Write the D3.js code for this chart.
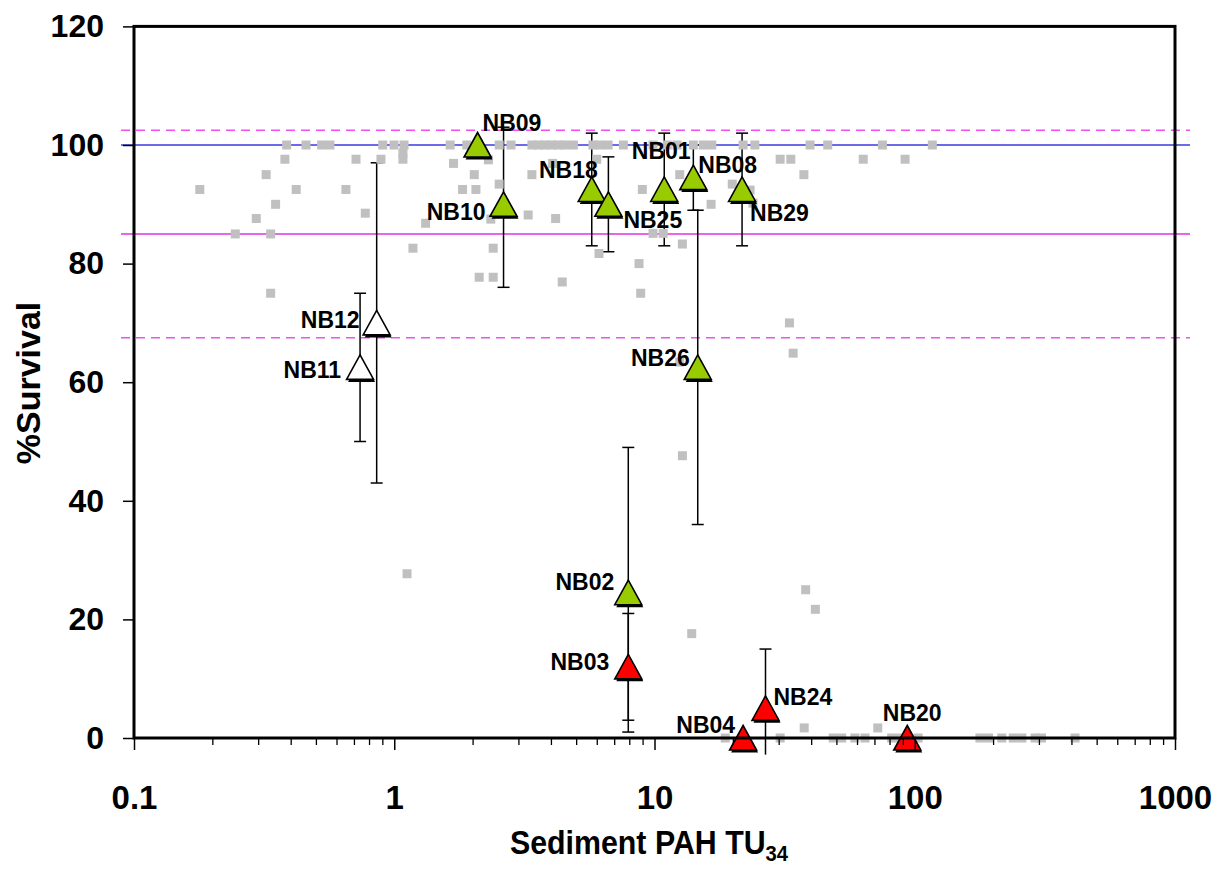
<!DOCTYPE html>
<html><head><meta charset="utf-8">
<script src="https://cdn.jsdelivr.net/npm/d3@7"></script>
<style>
body{margin:0;background:#fff;}
svg{display:block;font-family:"Liberation Sans",Arial,Helvetica,sans-serif;}
</style>
</head><body>
<svg id="chart" width="1219" height="869"></svg>
<script>
// ---------------- DATA ----------------
const siteNames    = ["NB09","NB10","NB18","NB25","NB01","NB08","NB29","NB26","NB12","NB11","NB02","NB03","NB04","NB24","NB20"];
const siteTU       = [2.09, 2.63, 5.74, 6.65, 10.9, 14.1, 21.7, 14.66, 0.856, 0.739, 7.93, 7.93, 21.9, 26.7, 93.6];
const siteSurvival = [100, 90, 92.5, 90, 92.5, 94.5, 92.5, 62.5, 70, 62.5, 24.5, 12, 0, 5, 0];
const siteErrPlus  = [0, 13, 9.5, 8, 9.5, 5.5, 9.5, 26.5, 27, 12.5, 24.5, 9, 0, 10, 0];
const siteErrMinus = [0, 14, 9.5, 8, 9.5, 5.5, 9.5, 26.5, 27, 12.5, 23.5, 9, 0, 10, 0];
const siteClass    = ["green","green","green","green","green","green","green","green","white","white","green","red","red","red","red"];

// reference (gray) observations: TU and %survival
const refTU = [
  0.386,0.458,0.526,0.566,0.903,0.998,1.09,1.64,1.90,2.53,2.81,3.38,3.58,3.80,4.03,4.27,4.53,4.88,5.80,6.17,6.63,7.59,9.87,11.2,12.2,14.1,15.4,16.6,21.9,24.3,39.6,46.3,75.1,116.8,
  0.380,0.713,0.889,1.08,1.08,1.69,2.30,4.06,6.0,30.4,33.4,63.4,91.8,
  0.322,2.03,3.38,12.5,37.5,
  0.179,0.420,0.652,1.83,2.06,8.98,23.3,
  2.53,19.9,0.350,16.5,23.9,0.774,0.295,3.27,4.17,2.35,1.32,0.245,0.335,9.87,10.8,12.8,1.18,2.40,6.12,8.72,2.12,2.40,4.42,0.335,8.85,33.0,12.5,34.1,12.8,1.12,13.9,38.1,41.5,37.6,72.1,
  18.7,30.4,48.6,52.4,58.9,64.4,81.5,87.8,103,178,192,216,239,258,290,307,413
];
const refSurvival = [
  100,100,100,100,100,100,100,100,100,100,100,100,100,100,100,100,100,100,100,100,100,100,100,100,100,100,100,100,100,100,100,100,100,100,
  97.6,97.6,97.6,97.6,98.6,96.9,97.5,96.9,97.6,97.6,97.6,97.6,97.6,
  95,95,95,95,95,
  92.5,92.5,92.5,92.5,92.5,92.5,92.4,
  93.4,93.4,90,90,90.2,88.5,87.6,88.2,87.6,87.5,86.8,85,85,85.1,85.1,83.3,82.6,82.6,81.7,80,77.7,77.7,76.9,75,75,70,63.4,64.9,47.6,27.7,17.6,25,21.7,1.7,1.7,
  0,0,0,0,0,0,0,0,0,0,0,0,0,0,0,0,0
];

const xTickValues = [0.1, 1, 10, 100, 1000];
const xTickLabels = ["0.1", "1", "10", "100", "1000"];
const yTickValues = [0, 20, 40, 60, 80, 100, 120];
const yTickLabels = ["0", "20", "40", "60", "80", "100", "120"];
const refLineValues = [102.5, 100, 85, 67.5];
const refLineKinds  = ["dashMagenta", "solidBlue", "solidMagenta", "dashMagenta"];

// ---------------- LAYOUT / STYLE ----------------
const colors = {green:"#99cc00", red:"#ff0000", white:"#ffffff"};
const lineStyles = {
  dashMagenta:{stroke:"#f050f0", width:1.5, dash:"9,6"},
  solidBlue:{stroke:"#3a3ae0", width:1.6, dash:null},
  solidMagenta:{stroke:"#e030e0", width:1.5, dash:null}
};
// label placement relative to marker (anchor, dx, dy)
const labelPlacement = {
  NB09:["start",5,-22], NB10:["end",-18,7], NB18:["end",6,-20], NB25:["start",15,15],
  NB01:["middle",-3,-39], NB08:["start",5,-13], NB29:["start",8,23], NB26:["end",-8,-10],
  NB12:["end",-17,-3], NB11:["end",-19,2], NB02:["end",-14,-11], NB03:["end",-19,-5],
  NB04:["end",-8,-13], NB24:["start",8,-12], NB20:["middle",5,-25]
};

const svg = d3.select("#chart");
const L = 134, R = 1175, T = 26.4, B = 738;
const x = d3.scaleLog().domain([0.1, 1000]).range([L, R]);
const y = d3.scaleLinear().domain([0, 120]).range([B, T]);

// reference lines (extend slightly beyond plot frame)
svg.append("g").selectAll("line").data(refLineValues).join("line")
  .attr("x1", 121).attr("x2", 1190)
  .attr("y1", d => y(d)).attr("y2", d => y(d))
  .attr("stroke", (d,i) => lineStyles[refLineKinds[i]].stroke)
  .attr("stroke-width", (d,i) => lineStyles[refLineKinds[i]].width)
  .attr("stroke-dasharray", (d,i) => lineStyles[refLineKinds[i]].dash);

// error bars
const sites = siteNames.map((n,i) => ({name:n, tu:siteTU[i], s:siteSurvival[i], ep:siteErrPlus[i], em:siteErrMinus[i], cls:siteClass[i]}));
const clipLow = -2.8;
const eg = svg.append("g").attr("stroke","#000").attr("stroke-width",1.5);
sites.filter(d => d.ep > 0 || d.em > 0).forEach(d => {
  const cx = x(d.tu);
  const top = y(d.s + d.ep);
  const lowVal = d.s - d.em;
  const bot = y(Math.max(lowVal, clipLow));
  eg.append("line").attr("x1",cx).attr("x2",cx).attr("y1",top).attr("y2",bot);
  eg.append("line").attr("x1",cx-6).attr("x2",cx+6).attr("y1",top).attr("y2",top);
  if (lowVal >= clipLow) eg.append("line").attr("x1",cx-6).attr("x2",cx+6).attr("y1",bot).attr("y2",bot);
});

// gray reference squares
const refPts = refTU.map((t,i) => ({tu:t, s:refSurvival[i]}));
svg.append("g").selectAll("rect").data(refPts).join("rect")
  .attr("x", d => x(d.tu) - 4.5).attr("y", d => y(d.s) - 4.5)
  .attr("width", 9).attr("height", 9).attr("fill", "#c0c0c0");

// triangles
function tri(cx, cy){ return `M${cx},${cy-12.5}L${cx+13.5},${cy+12}L${cx-13.5},${cy+12}Z`; }
const tg = svg.append("g");
sites.forEach(d => {
  const cx = x(d.tu), cy = y(d.s);
  tg.append("path").attr("d", tri(cx+1.5, cy+2.5)).attr("fill","#000");
  tg.append("path").attr("d", tri(cx, cy)).attr("fill", colors[d.cls]).attr("stroke","#000").attr("stroke-width",1.6).attr("stroke-linejoin","miter");
});

// site labels
svg.append("g").selectAll("text").data(sites).join("text")
  .attr("x", d => x(d.tu) + labelPlacement[d.name][1])
  .attr("y", d => y(d.s) + labelPlacement[d.name][2])
  .attr("dy", "0.36em")
  .attr("text-anchor", d => labelPlacement[d.name][0])
  .attr("font-size", 23).attr("font-weight", "bold").attr("fill", "#000")
  .text(d => d.name);

// frame
svg.append("rect").attr("x", L).attr("y", T).attr("width", R-L).attr("height", B-T)
  .attr("fill","none").attr("stroke","#000").attr("stroke-width",3);

// x axis: minor ticks
const minorTicks = [];
xTickValues.slice(0,-1).forEach(v => { for (let k=2;k<=9;k++) minorTicks.push(v*k); });
const gxMinor = svg.append("g").attr("transform", `translate(0,${B})`)
  .call(d3.axisBottom(x).tickValues(minorTicks).tickSize(7).tickFormat(""));
gxMinor.select(".domain").remove();
gxMinor.selectAll("line").attr("stroke","#000").attr("stroke-width",1.3);

const gx = svg.append("g").attr("transform", `translate(0,${B})`)
  .call(d3.axisBottom(x).tickValues(xTickValues).tickSize(12).tickPadding(36)
    .tickFormat((d,i) => xTickLabels[i]));
gx.select(".domain").remove();
gx.selectAll("line").attr("stroke","#000").attr("stroke-width",1.5);
gx.selectAll("text").attr("font-size",33).attr("font-weight","bold").attr("fill","#000")
  .attr("font-family",'"Liberation Sans",Arial,sans-serif');

const gy = svg.append("g").attr("transform", `translate(${L},0)`)
  .call(d3.axisLeft(y).tickValues(yTickValues).tickSize(11).tickPadding(19)
    .tickFormat((d,i) => yTickLabels[i]));
gy.select(".domain").remove();
gy.selectAll("line").attr("stroke","#000").attr("stroke-width",1.5);
gy.selectAll("text").attr("font-size",32).attr("font-weight","bold").attr("fill","#000")
  .attr("font-family",'"Liberation Sans",Arial,sans-serif');

// axis titles
svg.append("text").attr("transform","translate(40,383) rotate(-90)")
  .attr("text-anchor","middle").attr("font-size",34).attr("font-weight","bold").text("%Survival");
const xt = svg.append("text").attr("transform","translate(649,854) scale(0.92,1)").attr("text-anchor","middle")
  .attr("font-size",33).attr("font-weight","bold");
xt.append("tspan").text("Sediment PAH TU");
xt.append("tspan").attr("font-size",22).attr("dy",7).text("34");
</script>
</body></html>
